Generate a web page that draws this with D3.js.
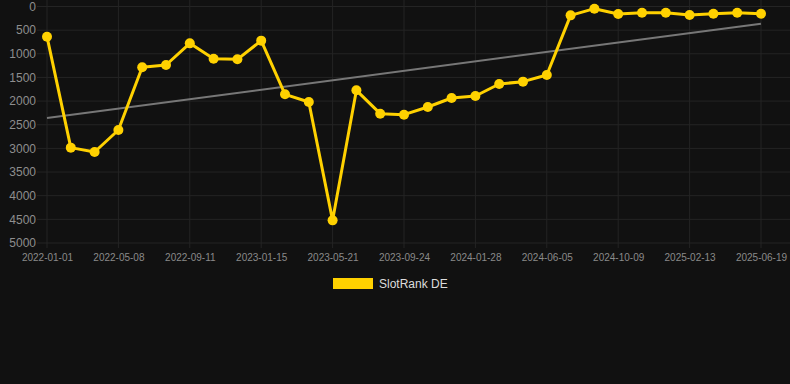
<!DOCTYPE html>
<html><head><meta charset="utf-8">
<script src="https://cdn.jsdelivr.net/npm/d3@7"></script>
<style>
html,body{margin:0;padding:0;background:#111111;}
svg{display:block;font-family:Arial,"Liberation Sans",sans-serif;}
</style></head>
<body>
<svg id="chart" width="790" height="384"></svg>
<script>
const dates = ["2022-01-01","2022-02-12","2022-03-26","2022-05-08","2022-06-19","2022-07-31","2022-09-11","2022-10-23","2022-12-04","2023-01-15","2023-02-26","2023-04-09","2023-05-21","2023-07-02","2023-08-13","2023-09-24","2023-11-05","2023-12-17","2024-01-28","2024-03-10","2024-04-22","2024-06-05","2024-07-17","2024-08-28","2024-10-09","2024-11-20","2025-01-02","2025-02-13","2025-03-27","2025-05-08","2025-06-19"];
const ranks = [638,2984,3076,2611,1286,1237,779,1103,1117,722,1857,2019,4521,1772,2266,2287,2125,1934,1892,1638,1589,1448,187,46,159,131,131,180,152,131,152];
const yTicks = [0,500,1000,1500,2000,2500,3000,3500,4000,4500,5000];
const seriesName = "SlotRank DE";

const svg = d3.select("#chart");
const x = d3.scalePoint().domain(dates).range([47, 761]);
const y = d3.scaleLinear().domain([0, 5000]).range([6.5, 243]);
const gridColor = "#242424";

// horizontal grid
svg.append("g").selectAll("line").data(yTicks).join("line")
  .attr("x1", 37).attr("x2", 790)
  .attr("y1", d => y(d)).attr("y2", d => y(d))
  .attr("stroke", gridColor).attr("stroke-width", 1);

const xTickDates = dates.filter((d, i) => i % 3 === 0);
// vertical grid
svg.append("g").selectAll("line").data(xTickDates).join("line")
  .attr("x1", d => x(d)).attr("x2", d => x(d))
  .attr("y1", 0).attr("y2", 248)
  .attr("stroke", gridColor).attr("stroke-width", 1);

// y axis labels
const yAxis = d3.axisLeft(y).tickValues(yTicks).tickFormat(d3.format("d")).tickSize(0).tickPadding(0);
const gy = svg.append("g").attr("transform", "translate(36,0)").call(yAxis);
gy.select(".domain").remove();
gy.selectAll("text").attr("fill", "#8e8e8e").attr("font-size", "12px").attr("font-family", "Arial, 'Liberation Sans', sans-serif");

// x axis labels
const xAxis = d3.axisBottom(x).tickValues(xTickDates).tickSize(0).tickPadding(0);
const gx = svg.append("g").attr("transform", "translate(0,254)").call(xAxis);
gx.select(".domain").remove();
gx.selectAll("text").attr("fill", "#8a8a8a").attr("font-size", "10px").attr("font-family", "Arial, 'Liberation Sans', sans-serif");

// trend line (least squares over index)
const n = ranks.length;
const idx = d3.range(n);
const mx = d3.mean(idx), my = d3.mean(ranks);
const slope = d3.sum(idx, i => (i - mx) * (ranks[i] - my)) / d3.sum(idx, i => (i - mx) * (i - mx));
const icpt = my - slope * mx;
svg.append("line")
  .attr("x1", x(dates[0])).attr("y1", y(icpt))
  .attr("x2", x(dates[n - 1])).attr("y2", y(icpt + slope * (n - 1)))
  .attr("stroke", "#777777").attr("stroke-width", 2);

// series line
const line = d3.line().x((d, i) => x(dates[i])).y(d => y(d));
svg.append("path").datum(ranks).attr("d", line)
  .attr("fill", "none").attr("stroke", "#FFD100").attr("stroke-width", 3).attr("stroke-linejoin", "round");

svg.append("g").selectAll("circle").data(ranks).join("circle")
  .attr("cx", (d, i) => x(dates[i])).attr("cy", d => y(d)).attr("r", 5)
  .attr("fill", "#FFD100");

// legend
svg.append("rect").attr("x", 333).attr("y", 278).attr("width", 40).attr("height", 11).attr("fill", "#FFD100");
svg.append("text").attr("x", 379).attr("y", 288).text(seriesName)
  .attr("fill", "#dddddd").attr("font-size", "12px");
</script>
</body></html>
